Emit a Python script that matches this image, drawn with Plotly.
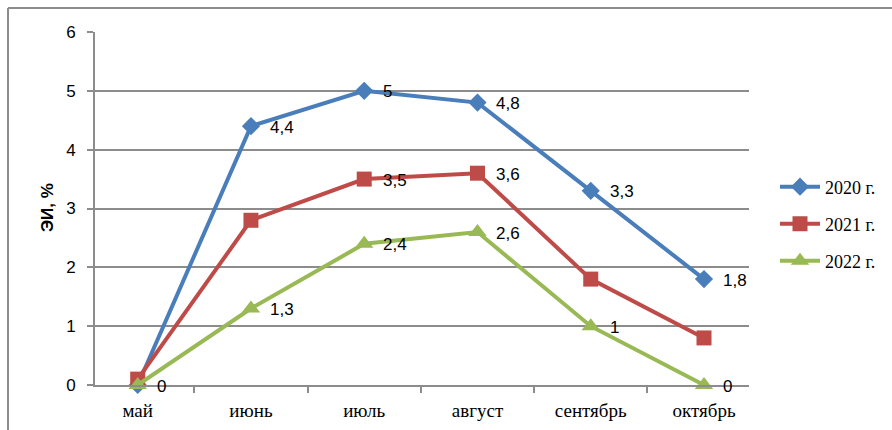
import plotly.graph_objects as go

months = ["май", "июнь", "июль", "август", "сентябрь", "октябрь"]
series_names = ["2020 г.", "2021 г.", "2022 г."]
v2020 = [0, 4.4, 5, 4.8, 3.3, 1.8]
v2021 = [0.1, 2.8, 3.5, 3.6, 1.8, 0.8]
v2022 = [0, 1.3, 2.4, 2.6, 1, 0]
labels2020 = ["", "4,4", "5", "4,8", "3,3", "1,8"]
labels2021 = ["", "", "3,5", "3,6", "", ""]
labels2022 = ["0", "1,3", "2,4", "2,6", "1", "0"]
y_ticks = [0, 1, 2, 3, 4, 5, 6]

colors = ["#4A7EBB", "#BE4B48", "#98B954"]
symbols = ["diamond", "square", "triangle-up"]
msizes = [14, 15, 16]
allvals = [v2020, v2021, v2022]
alllabels = [labels2020, labels2021, labels2022]

SERIF = "Times New Roman, Liberation Serif, serif"
SANS = "Liberation Sans, Arial, sans-serif"

W, H = 892, 430
fig = go.Figure()
legends = ["legend", "legend2", "legend3"]
for i in range(3):
    fig.add_trace(go.Scatter(
        x=months, y=allvals[i], name=series_names[i], mode="lines+markers",
        line=dict(color=colors[i], width=4),
        marker=dict(symbol=symbols[i], size=msizes[i], color=colors[i]),
        legend=legends[i], cliponaxis=False,
    ))

annotations = []
for i in range(3):
    for m, v, t in zip(months, allvals[i], alllabels[i]):
        if t:
            annotations.append(dict(
                x=m, y=v, xref="x", yref="y", text=t, showarrow=False,
                xanchor="left", yanchor="middle", xshift=17, yshift=-1,
                font=dict(family=SANS, size=17, color="#000000"),
            ))

annotations.append(dict(
    x=47 / W, y=1 - 208 / H, xref="paper", yref="paper", text="<b>ЭИ, %</b>",
    textangle=-90, showarrow=False, xanchor="center", yanchor="middle",
    font=dict(family=SANS, size=17, color="#000000"),
))

leg_common = dict(xanchor="left", yanchor="middle", bgcolor="rgba(0,0,0,0)",
                  font=dict(family=SERIF, size=18, color="#000000"),
                  itemwidth=40)
legend_y = [187, 224, 261]

fig.update_layout(
    width=W, height=H,
    margin=dict(l=0, r=0, t=0, b=0),
    font=dict(family=SERIF, color="#000000"),
    paper_bgcolor="white", plot_bgcolor="white",
    showlegend=True,
    legend=dict(x=775 / W, y=1 - legend_y[0] / H, **leg_common),
    legend2=dict(x=775 / W, y=1 - legend_y[1] / H, **leg_common),
    legend3=dict(x=775 / W, y=1 - legend_y[2] / H, **leg_common),
    xaxis=dict(
        domain=[95 / W, 749 / W], type="category", automargin=False,
        showgrid=False, showline=True, linecolor="#8C8C8C", linewidth=2,
        ticks="outside", tickson="boundaries", ticklen=6, tickcolor="#8C8C8C", tickwidth=2,
        tickfont=dict(family=SERIF, size=19, color="#000000"),
        ticklabelstandoff=7, zeroline=False,
    ),
    yaxis=dict(
        domain=[1 - 385 / H, 1 - 32 / H], range=[0, 6], automargin=False,
        tickvals=y_ticks, ticktext=[str(t) for t in y_ticks],
        showgrid=True, gridcolor="#8C8C8C", gridwidth=2,
        showline=True, linecolor="#8C8C8C", linewidth=2,
        ticks="outside", ticklen=6, tickcolor="#8C8C8C", tickwidth=2,
        tickfont=dict(family=SANS, size=17, color="#000000"),
        ticklabelstandoff=8, zeroline=False,
    ),
    annotations=annotations,
    shapes=[
        dict(type="line", xref="paper", yref="paper", x0=8 / W, x1=1.0, y0=1 - 8 / H, y1=1 - 8 / H,
             line=dict(color="#8C8C8C", width=2)),
        dict(type="line", xref="paper", yref="paper", x0=8 / W, x1=8 / W, y0=0, y1=1 - 8 / H,
             line=dict(color="#8C8C8C", width=2)),
    ],
)

fig.write_html("out.html")
